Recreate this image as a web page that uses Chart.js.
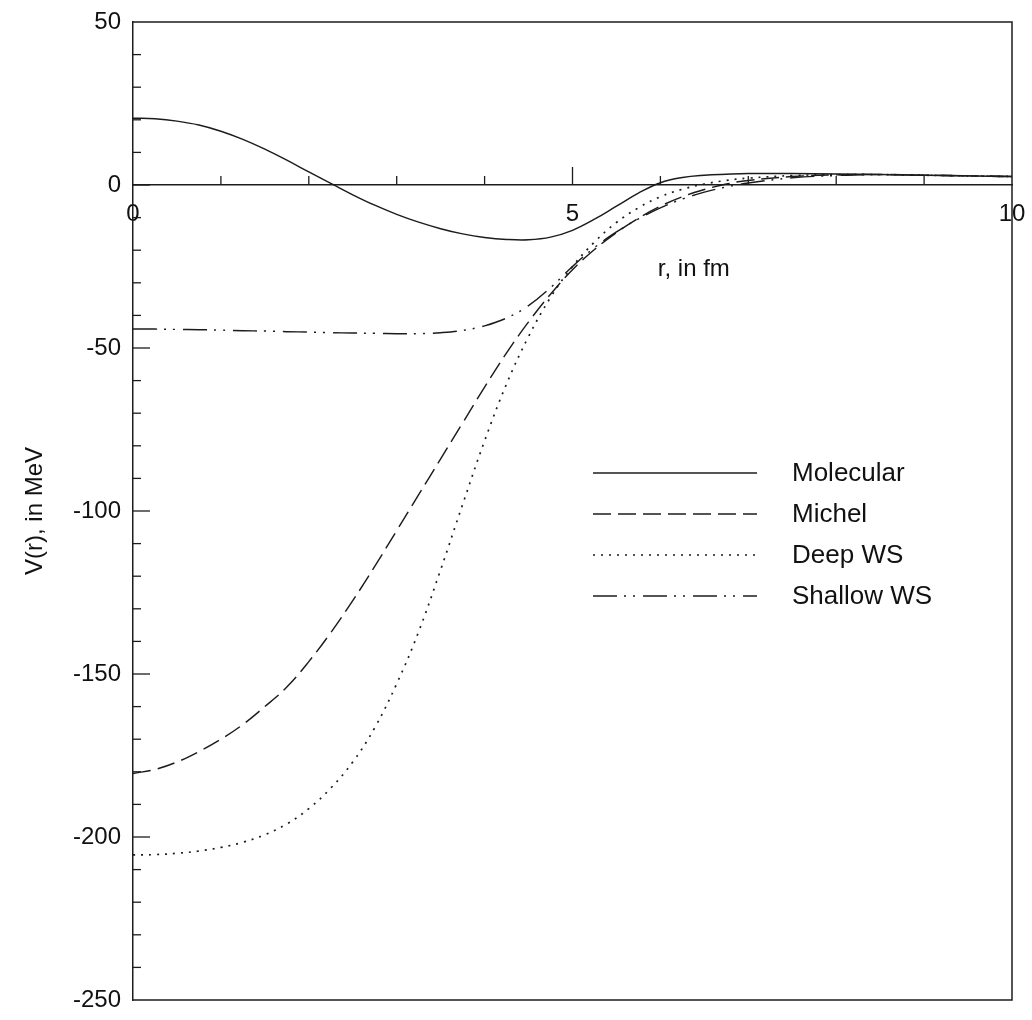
<!DOCTYPE html>
<html><head><meta charset="utf-8">
<script src="https://cdn.jsdelivr.net/npm/chart.js@4.4.0/dist/chart.umd.min.js"></script>
<style>html,body{margin:0;padding:0;background:#fff;}#wrap{width:1032px;height:1020px;}</style>
</head><body><div id="wrap"><canvas id="c" width="1032" height="1020"></canvas></div>
<script>
// ---- data ----
const rValues   = [0, 0.25, 0.5, 0.75, 1, 1.25, 1.5, 1.75, 2, 2.25, 2.5, 2.75, 3, 3.25, 3.5, 3.75, 4, 4.25, 4.5, 4.75, 5, 5.25, 5.5, 5.75, 6, 6.25, 6.5, 6.75, 7, 7.5, 8, 8.5, 9, 9.5, 10];
const molecular = [20.5, 20.3, 19.6, 18.4, 16.5, 14.0, 11.0, 7.6, 4.0, 0.5, -3.0, -6.2, -9.0, -11.4, -13.4, -15.0, -16.1, -16.7, -16.8, -16.0, -13.9, -10.5, -6.5, -2.5, 0.7, 2.3, 3.0, 3.3, 3.5, 3.5, 3.4, 3.2, 3.0, 2.8, 2.6];
const michel    = [-180.5, -179.3, -177, -173.8, -170, -165.5, -160, -154, -146.2, -137.3, -127.5, -117, -106, -95, -84, -73, -62, -51.5, -42, -33.5, -26, -19.8, -14.6, -10.2, -6.5, -3.6, -1.4, 0.3, 1.4, 2.6, 3.1, 3.2, 3.0, 2.8, 2.6];
const deepWS    = [-205.5, -205.4, -205, -204.3, -203.2, -201.6, -199.3, -196, -191.3, -185, -177, -166.5, -153, -137, -118, -98, -78.5, -61, -46.5, -34.5, -25, -17.5, -11.5, -7, -3.6, -1.3, 0.3, 1.4, 2.1, 2.9, 3.2, 3.2, 3.0, 2.8, 2.6];
const shallowWS = [-44.2, -44.2, -44.3, -44.4, -44.5, -44.7, -44.8, -45, -45.1, -45.3, -45.4, -45.5, -45.6, -45.6, -45.3, -44.6, -43.2, -40.8, -37, -31.5, -25, -19.2, -14.4, -10.4, -7, -4.3, -2.2, -0.6, 0.6, 2.2, 2.9, 3.2, 3.0, 2.8, 2.6];
const seriesNames = ['Molecular', 'Michel', 'Deep WS', 'Shallow WS'];
const xTickLabels = [0, 5, 10];
const yTickLabels = [50, 0, -50, -100, -150, -200, -250];
const xTitle = 'r, in fm';
const yTitle = 'V(r), in MeV';

const FONT = 'Arial, "Liberation Sans", Helvetica, sans-serif';
const INK = '#1c1c1c';
const dashes = [[], [18, 7], [2, 6], [24, 7, 2, 7, 2, 8]];
const seriesValues = [molecular, michel, deepWS, shallowWS];

Chart.defaults.font.family = FONT;

const datasets = seriesValues.map((vals, i) => ({
  label: seriesNames[i],
  data: rValues.map((r, k) => ({x: r, y: vals[k]})),
  borderColor: INK,
  borderWidth: i === 2 ? 1.7 : 1.45,
  borderDash: dashes[i],
  pointRadius: 0,
  fill: false,
  tension: 0.4
}));

function noPad(s) { s.paddingTop = 0; s.paddingBottom = 0; s.paddingLeft = 0; s.paddingRight = 0; }

const decor = {
  id: 'decor',
  afterDraw(chart) {
    const {ctx, chartArea: a, scales: {x, y}} = chart;
    ctx.save();
    ctx.strokeStyle = INK;
    ctx.lineWidth = 1.5;
    ctx.setLineDash([]);
    // frame top / right / bottom
    ctx.beginPath();
    ctx.moveTo(a.left, a.top); ctx.lineTo(a.right, a.top);
    ctx.lineTo(a.right, a.bottom); ctx.lineTo(a.left, a.bottom);
    ctx.stroke();
    // y inward ticks
    ctx.lineWidth = 1.3;
    for (let v = -240; v < 50; v += 10) {
      const py = y.getPixelForValue(v);
      const len = v % 50 === 0 ? 17 : 8;
      ctx.beginPath(); ctx.moveTo(a.left, py); ctx.lineTo(a.left + len, py); ctx.stroke();
    }
    // x ticks on the zero line (upward)
    const y0 = y.getPixelForValue(0);
    for (let v = 1; v < 10; v++) {
      const px = x.getPixelForValue(v);
      const len = v % 5 === 0 ? 18 : 9;
      ctx.beginPath(); ctx.moveTo(px, y0); ctx.lineTo(px, y0 - len); ctx.stroke();
    }
    // x title
    ctx.fillStyle = '#111';
    ctx.font = '24px ' + FONT;
    ctx.textAlign = 'center';
    ctx.textBaseline = 'middle';
    ctx.fillText(xTitle, x.getPixelForValue(6.38), y.getPixelForValue(-26));
    // legend
    ctx.textAlign = 'left';
    ctx.font = '26px ' + FONT;
    const lx0 = a.left + 460, lx1 = a.left + 624, tx = a.left + 659;
    chart.data.datasets.forEach((ds, i) => {
      const ly = a.top + 451 + i * 41;
      ctx.strokeStyle = INK;
      ctx.lineWidth = ds.borderWidth;
      ctx.setLineDash(ds.borderDash);
      ctx.beginPath(); ctx.moveTo(lx0, ly); ctx.lineTo(lx1, ly); ctx.stroke();
      ctx.setLineDash([]);
      ctx.fillText(ds.label, tx, ly + 1);
    });
    ctx.restore();
  }
};

new Chart(document.getElementById('c'), {
  type: 'line',
  data: {datasets},
  options: {
    responsive: false,
    devicePixelRatio: 1,
    animation: false,
    layout: {padding: {left: 0, right: 20, top: 22, bottom: 20}},
    plugins: {legend: {display: false}, tooltip: {enabled: false}},
    events: [],
    scales: {
      x: {
        type: 'linear', min: 0, max: 10,
        position: {y: 0},
        afterFit: s => { s.height = 0; noPad(s); },
        grid: {drawOnChartArea: false, drawTicks: false},
        border: {display: true, color: INK, width: 1.5},
        ticks: {
          stepSize: 1, autoSkip: false, maxRotation: 0, padding: 15,
          color: '#111', font: {size: 24},
          callback: v => xTickLabels.includes(v) ? String(v) : ''
        }
      },
      y: {
        type: 'linear', min: -250, max: 50,
        afterFit: s => { s.width = 133; noPad(s); },
        grid: {drawOnChartArea: false, drawTicks: false},
        border: {display: true, color: INK, width: 1.5},
        title: {display: true, text: yTitle, color: '#111', font: {size: 24}, padding: {top: 21, bottom: 0}},
        ticks: {
          stepSize: 10, autoSkip: false, padding: 12,
          color: '#111', font: {size: 24},
          callback: v => yTickLabels.includes(v) ? String(v) : ''
        }
      }
    }
  },
  plugins: [decor]
});
</script>
</body></html>
